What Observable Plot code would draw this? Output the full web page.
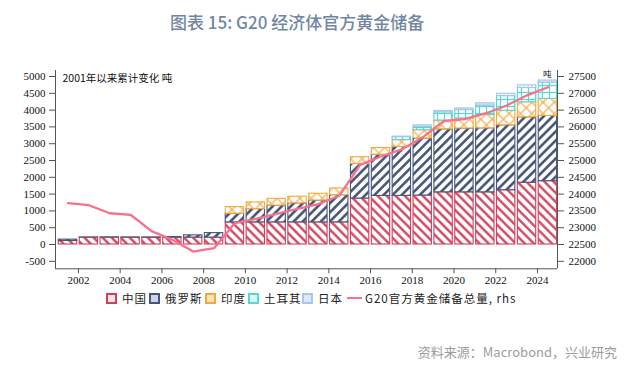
<!DOCTYPE html>
<html><head><meta charset="utf-8">
<script src="https://cdn.jsdelivr.net/npm/d3@7"></script>
<script src="https://cdn.jsdelivr.net/npm/@observablehq/plot@0.6"></script>
<style>
body{margin:0;background:#fff;}
#wrap{position:relative;width:640px;height:369px;overflow:hidden;font-family:"Noto Sans CJK SC","Noto Sans",sans-serif;}
#title{position:absolute;left:170px;top:9px;font-size:17px;font-weight:500;color:#7286a4;white-space:nowrap;}
#chart{position:absolute;left:0;top:40px;}
.lg{position:absolute;top:290px;font-size:11.5px;color:#222;white-space:nowrap;letter-spacing:1px;display:flex;align-items:center;}
.sw{width:7px;height:7px;border:2px solid;margin-right:5px;}
.ln{width:15px;height:2.5px;background:#f7708e;margin-right:3px;}
#src{position:absolute;right:23px;top:342px;font-size:13px;color:#9c9c9c;white-space:nowrap;}
</style></head>
<body>
<div id="wrap">
  <div id="title">图表 15: G20 经济体官方黄金储备</div>
  <div id="chart"></div>
  <div id="legend"></div>
  <div id="src">资料来源：Macrobond，兴业研究</div>
</div>
<script>
// ---- data (tonnes, cumulative change since 2001 base) ----
const years  = [2001,2002,2003,2004,2005,2006,2007,2008,2009,2010,2011,2012,2013,2014,2015,2016,2017,2018,2019,2020,2021,2022,2023,2024];
const china  = [105,205,205,205,205,205,205,205,659,659,659,659,659,659,1367,1447,1447,1457,1553,1553,1553,1615,1840,1885];
const russia = [40,3,6,3,3,18,67,135,257,395,500,565,651,810,1031,1225,1460,1700,1875,1900,1905,1935,1946,1943];
const india  = [0,0,0,0,0,0,0,0,197,200,200,200,200,200,200,200,200,245,260,300,396,430,446,506];
const turkey = [0,0,0,0,0,0,0,0,0,0,0,0,0,0,0,0,90,100,247,248,279,438,426,488];
const japan  = [0,0,0,0,0,0,0,0,0,0,0,0,0,0,0,0,15,45,40,50,70,70,80,60];
// G20 official gold reserves total (rhs, tonnes)
const g20total = [23730,23670,23430,23385,22900,22640,22290,22390,23140,23260,23410,23560,23700,23950,24870,25120,25330,25690,26170,26230,26400,26630,26940,27180];
const seriesNames = ["中国","俄罗斯","印度","土耳其","日本"];
const lineName = "G20官方黄金储备总量, rhs";
const leftTicks = [-500,0,500,1000,1500,2000,2500,3000,3500,4000,4500,5000];
const xTicks = [2002,2004,2006,2008,2010,2012,2014,2016,2018,2020,2022,2024];
const rhsOffset = 22500;
const unitLeft = "2001年以来累计变化 吨";
const unitRight = "吨";

// ---- styles ----
const seriesVals = [china, russia, india, turkey, japan];
const strokes = ["#d0405a","#46567a","#f3a83c","#5ad6d0","#a9c6e8"];
const fills = ["url(#pCN)","url(#pRU)","url(#pIN)","url(#pTR)","url(#pJP)"];

// stacked table
const rows = [];
years.forEach((y, i) => {
  let acc = 0;
  seriesVals.forEach((arr, s) => {
    const v = arr[i];
    rows.push({year: y, s, y1: acc, y2: acc + v, v});
    acc += v;
  });
});
const lineData = years.map((y, i) => ({x: y + 0.5, v: g20total[i] - rhsOffset}));

const xDomain = [2000.9, 2024.96];
const yDomain = [-723, 5179];

const marks = [];
seriesVals.forEach((arr, s) => {
  marks.push(Plot.rect(rows.filter(r => r.s === s && r.v > 0), {
    x1: r => r.year + 0.06, x2: r => r.year + 0.94, y1: "y1", y2: "y2",
    fill: fills[s], stroke: strokes[s], strokeWidth: 1.1
  }));
});
marks.push(
  Plot.line(lineData, {x: "x", y: "v", stroke: "#f7708e", strokeWidth: 2.3}),
  Plot.ruleX([xDomain[0]], {stroke: "#555"}),
  Plot.ruleX([xDomain[1]], {stroke: "#555"}),
  Plot.ruleY([yDomain[0]], {stroke: "#555"}),
  Plot.axisY(leftTicks, {anchor: "left", label: null, tickSize: 6, tickPadding: 4, tickFormat: d => String(d), stroke: "#555"}),
  Plot.axisY(leftTicks, {anchor: "right", label: null, tickSize: 6, tickPadding: 5, tickFormat: d => String(d + rhsOffset), stroke: "#555"}),
  Plot.axisX(xTicks, {anchor: "bottom", label: null, tickSize: 5, tickPadding: 2, tickFormat: d => String(d), stroke: "#555"}),
  Plot.text([unitLeft], {frameAnchor: "top-left", dx: 7, dy: 4, fontFamily: "Noto Sans CJK SC", fontSize: 10.5, textAnchor: "start", fill: "#111"}),
  Plot.text([unitRight], {frameAnchor: "top-right", dx: -6, dy: 0, fontFamily: "Noto Sans CJK SC", fontSize: 8.5, fill: "#111"})
);

const svg = Plot.plot({
  width: 640, height: 252,
  marginLeft: 55, marginRight: 83, marginTop: 30, marginBottom: 23.7,
  x: {domain: xDomain, axis: null, label: null},
  y: {domain: yDomain, axis: null, label: null},
  style: {fontFamily: "Liberation Serif", fontSize: "11px", color: "#111", background: "transparent"},
  marks
});

// patterns
const defs = d3.select(svg).insert("defs", ":first-child");
function stripe(id, color, angle, gap, w) {
  const p = defs.append("pattern").attr("id", id).attr("patternUnits", "userSpaceOnUse")
    .attr("width", gap).attr("height", gap).attr("patternTransform", `rotate(${angle})`);
  p.append("rect").attr("width", gap).attr("height", gap).attr("fill", "#fff");
  p.append("line").attr("x1", gap/2).attr("y1", 0).attr("x2", gap/2).attr("y2", gap).attr("stroke", color).attr("stroke-width", w);
}
stripe("pCN", "#d0405a", -45, 6.4, 2.3);
stripe("pRU", "#404f72", 45, 6.4, 2.5);
(function(){
  const g = 8;
  const p = defs.append("pattern").attr("id", "pIN").attr("patternUnits", "userSpaceOnUse").attr("width", g).attr("height", g).attr("patternTransform", "rotate(45)");
  p.append("rect").attr("width", g).attr("height", g).attr("fill", "#fff");
  p.append("line").attr("x1", g/2).attr("y1", 0).attr("x2", g/2).attr("y2", g).attr("stroke", "#f5b04e").attr("stroke-width", 1.3);
  p.append("line").attr("x1", 0).attr("y1", g/2).attr("x2", g).attr("y2", g/2).attr("stroke", "#f5b04e").attr("stroke-width", 1.3);
  const q = defs.append("pattern").attr("id", "pTR").attr("patternUnits", "userSpaceOnUse").attr("width", 7).attr("height", 7);
  q.append("rect").attr("width", 7).attr("height", 7).attr("fill", "#fff");
  q.append("line").attr("x1", 3.5).attr("y1", 0).attr("x2", 3.5).attr("y2", 7).attr("stroke", "#5ad6d0").attr("stroke-width", 1.2);
  q.append("line").attr("x1", 0).attr("y1", 3.5).attr("x2", 7).attr("y2", 3.5).attr("stroke", "#5ad6d0").attr("stroke-width", 1.2);
  const r = defs.append("pattern").attr("id", "pJP").attr("patternUnits", "userSpaceOnUse").attr("width", 4).attr("height", 4);
  r.append("rect").attr("width", 4).attr("height", 4).attr("fill", "#d6e6f6");
  r.append("rect").attr("x", 1).attr("y", 1).attr("width", 2).attr("height", 2).attr("fill", "#fff");
})();

document.getElementById("chart").appendChild(svg);

// legend
const lg = document.getElementById("legend");
const lgX = [106, 149, 205, 248, 302];
const swFill = ["#fbe3e7","#cfd5e2","#fde2b8","#d8f6f4","#dce9f7"];
seriesNames.forEach((n, i) => {
  const d = document.createElement("div");
  d.className = "lg"; d.style.left = lgX[i] + "px";
  d.innerHTML = `<span class="sw" style="border-color:${strokes[i]};background:${swFill[i]}"></span>${n}`;
  lg.appendChild(d);
});
const dl = document.createElement("div");
dl.className = "lg"; dl.style.left = "347px";
dl.innerHTML = `<span class="ln"></span>${lineName}`;
lg.appendChild(dl);
</script>
</body></html>
